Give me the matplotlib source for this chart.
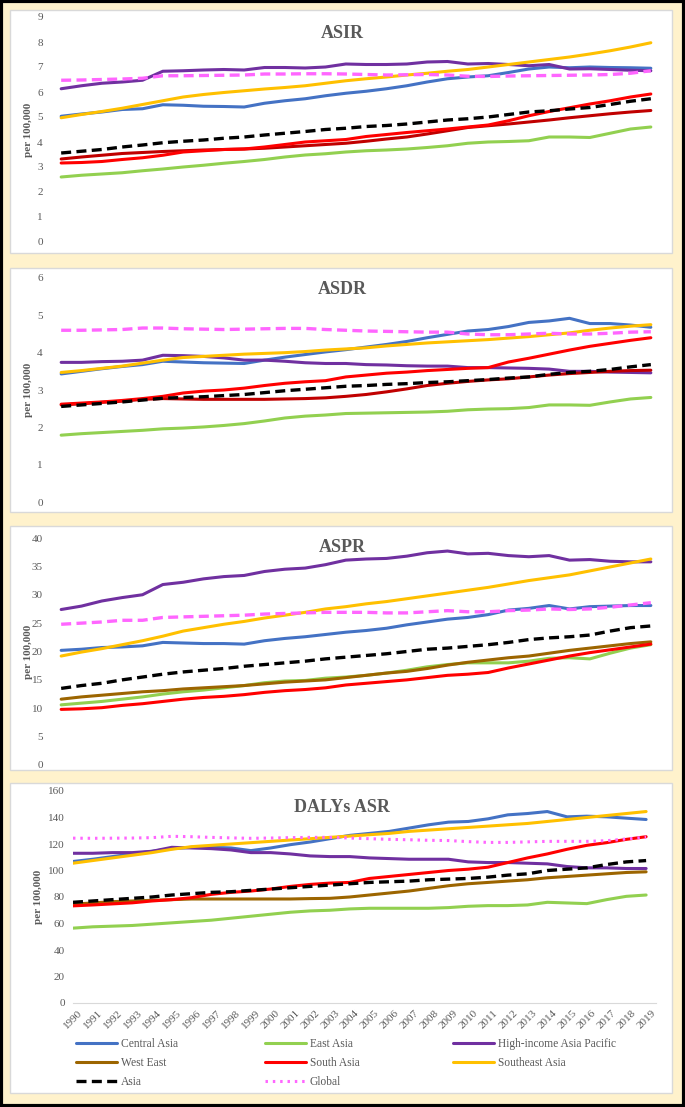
import matplotlib
matplotlib.use("Agg")
import matplotlib.pyplot as plt
from matplotlib.patches import Rectangle
from matplotlib.transforms import ScaledTranslation

plt.rcParams['font.family'] = 'serif'
plt.rcParams['font.serif'] = ['Liberation Serif', 'DejaVu Serif']

# data
years = list(range(1990, 2020))
regions = ['Central Asia', 'East Asia', 'High-income Asia Pacific', 'West East',
           'South Asia', 'Southeast Asia', 'Asia', 'Global']

asir = {
    'Central Asia': [5.03, 5.12, 5.2, 5.3, 5.33, 5.49, 5.47, 5.43, 5.42, 5.4, 5.55, 5.65, 5.73, 5.85, 5.95,
                     6.03, 6.13, 6.25, 6.4, 6.53, 6.6, 6.65, 6.78, 6.92, 7.0, 6.97, 7.0, 6.98, 6.97, 6.95],
    'East Asia': [2.6, 2.67, 2.72, 2.77, 2.85, 2.92, 3.0, 3.07, 3.15, 3.22, 3.3, 3.4, 3.48, 3.53, 3.6,
                  3.65, 3.68, 3.72, 3.78, 3.85, 3.95, 4.0, 4.02, 4.05, 4.2, 4.2, 4.18, 4.35, 4.52, 4.6],
    'High-income Asia Pacific': [6.13, 6.25, 6.35, 6.4, 6.47, 6.83, 6.85, 6.88, 6.9, 6.88, 6.98, 6.98, 6.96, 7.0, 7.12,
                                 7.1, 7.1, 7.12, 7.2, 7.22, 7.12, 7.14, 7.1, 7.05, 7.1, 6.92, 6.93, 6.9, 6.87, 6.85],
    'West East': [3.32, 3.4, 3.47, 3.54, 3.58, 3.62, 3.65, 3.68, 3.7, 3.72, 3.75, 3.8, 3.85, 3.9, 3.95,
                  4.03, 4.12, 4.2, 4.32, 4.45, 4.58, 4.65, 4.72, 4.8, 4.88, 4.97, 5.05, 5.13, 5.2, 5.26],
    'South Asia': [3.16, 3.18, 3.22, 3.3, 3.37, 3.47, 3.6, 3.65, 3.7, 3.72, 3.8, 3.9, 4.0, 4.05, 4.1,
                   4.22, 4.3, 4.38, 4.45, 4.52, 4.6, 4.68, 4.85, 5.05, 5.22, 5.37, 5.52, 5.65, 5.8, 5.92],
    'Southeast Asia': [4.97, 5.1, 5.22, 5.35, 5.5, 5.65, 5.8, 5.9, 5.98, 6.05, 6.12, 6.18, 6.25, 6.35, 6.45,
                       6.53, 6.6, 6.68, 6.75, 6.83, 6.9, 7.0, 7.1, 7.2, 7.3, 7.4, 7.52, 7.65, 7.8, 7.97],
    'Asia': [3.56, 3.63, 3.7, 3.8, 3.88, 3.97, 4.03, 4.08, 4.15, 4.2, 4.28, 4.35, 4.42, 4.5, 4.55,
             4.62, 4.66, 4.72, 4.8, 4.88, 4.93, 5.0, 5.1, 5.2, 5.25, 5.32, 5.38, 5.5, 5.63, 5.73],
    'Global': [6.47, 6.48, 6.5, 6.52, 6.55, 6.65, 6.65, 6.66, 6.67, 6.68, 6.72, 6.72, 6.73, 6.73, 6.72,
               6.7, 6.68, 6.69, 6.7, 6.68, 6.63, 6.62, 6.64, 6.65, 6.66, 6.67, 6.68, 6.7, 6.75, 6.85],
}

asdr = {
    'Central Asia': [3.43, 3.5, 3.57, 3.63, 3.68, 3.77, 3.75, 3.73, 3.72, 3.71, 3.8, 3.88, 3.95, 4.02, 4.08,
                     4.15, 4.22, 4.3, 4.4, 4.49, 4.58, 4.62, 4.7, 4.81, 4.85, 4.92, 4.78, 4.78, 4.74, 4.68],
    'East Asia': [1.79, 1.83, 1.86, 1.89, 1.92, 1.96, 1.98, 2.01, 2.05, 2.1, 2.17, 2.25, 2.3, 2.33, 2.37,
                  2.38, 2.39, 2.4, 2.41, 2.43, 2.47, 2.49, 2.5, 2.53, 2.6, 2.6, 2.59, 2.68, 2.76, 2.8],
    'High-income Asia Pacific': [3.74, 3.74, 3.76, 3.77, 3.8, 3.93, 3.92, 3.9, 3.86, 3.8, 3.8, 3.77, 3.73, 3.71, 3.71,
                                 3.68, 3.67, 3.65, 3.64, 3.64, 3.6, 3.6, 3.59, 3.58, 3.56, 3.5, 3.5, 3.48, 3.47, 3.46],
    'West East': [2.6, 2.63, 2.67, 2.7, 2.75, 2.77, 2.76, 2.75, 2.75, 2.75, 2.75, 2.76, 2.77, 2.79, 2.83,
                  2.88, 2.95, 3.03, 3.12, 3.18, 3.23, 3.27, 3.3, 3.35, 3.4, 3.44, 3.47, 3.5, 3.52, 3.53],
    'South Asia': [2.62, 2.65, 2.68, 2.72, 2.77, 2.83, 2.92, 2.97, 3.0, 3.05, 3.12, 3.18, 3.22, 3.25, 3.35,
                   3.4, 3.45, 3.48, 3.52, 3.55, 3.58, 3.6, 3.75, 3.85, 3.96, 4.07, 4.17, 4.25, 4.33, 4.4],
    'Southeast Asia': [3.47, 3.52, 3.58, 3.64, 3.72, 3.8, 3.87, 3.9, 3.93, 3.96, 3.98, 4.0, 4.03, 4.07, 4.1,
                       4.13, 4.18, 4.22, 4.26, 4.29, 4.32, 4.35, 4.39, 4.43, 4.48, 4.53, 4.6, 4.66, 4.71, 4.75],
    'Asia': [2.56, 2.6, 2.64, 2.68, 2.73, 2.78, 2.8, 2.82, 2.85, 2.88, 2.93, 2.98, 3.02, 3.06, 3.1,
             3.12, 3.15, 3.17, 3.2, 3.22, 3.25, 3.28, 3.32, 3.35, 3.42, 3.47, 3.5, 3.55, 3.62, 3.68],
    'Global': [4.6, 4.6, 4.61, 4.62, 4.66, 4.66, 4.64, 4.63, 4.62, 4.63, 4.64, 4.65, 4.65, 4.62, 4.6,
               4.58, 4.57, 4.56, 4.55, 4.55, 4.5, 4.48, 4.48, 4.5, 4.52, 4.5, 4.5, 4.52, 4.55, 4.56],
}

aspr = {
    'Central Asia': [20.2, 20.4, 20.7, 20.8, 21.0, 21.6, 21.5, 21.4, 21.4, 21.3, 21.9, 22.3, 22.6, 23.0, 23.4,
                     23.7, 24.1, 24.7, 25.2, 25.7, 26.0, 26.5, 27.3, 27.6, 28.1, 27.5, 27.9, 28.0, 28.1, 28.1],
    'East Asia': [10.6, 10.9, 11.2, 11.6, 12.0, 12.5, 12.9, 13.2, 13.6, 14.0, 14.5, 14.8, 14.9, 15.3, 15.5,
                  15.8, 16.2, 16.7, 17.3, 17.7, 18.0, 18.0, 18.0, 18.3, 18.8, 18.9, 18.7, 19.7, 20.6, 21.2],
    'High-income Asia Pacific': [27.4, 28.0, 28.9, 29.5, 30.0, 31.8, 32.2, 32.8, 33.2, 33.4, 34.1, 34.5, 34.7, 35.3, 36.1,
                                 36.3, 36.4, 36.8, 37.4, 37.7, 37.2, 37.3, 36.9, 36.7, 36.9, 36.1, 36.2, 35.9, 35.8, 35.8],
    'West East': [11.6, 12.0, 12.3, 12.6, 12.9, 13.1, 13.4, 13.6, 13.8, 14.0, 14.3, 14.6, 14.8, 15.0, 15.4,
                  15.8, 16.2, 16.5, 17.0, 17.6, 18.1, 18.5, 18.9, 19.2, 19.7, 20.2, 20.6, 21.0, 21.4, 21.7],
    'South Asia': [9.8, 9.9, 10.1, 10.5, 10.8, 11.2, 11.6, 11.9, 12.1, 12.4, 12.8, 13.1, 13.3, 13.6, 14.1,
                   14.4, 14.7, 15.0, 15.4, 15.8, 16.0, 16.3, 17.1, 17.8, 18.5, 19.2, 19.8, 20.3, 20.8, 21.3],
    'Southeast Asia': [19.2, 19.9, 20.5, 21.2, 21.9, 22.7, 23.6, 24.2, 24.8, 25.3, 25.9, 26.4, 26.9, 27.5, 27.9,
                       28.4, 28.8, 29.3, 29.8, 30.3, 30.8, 31.3, 31.9, 32.5, 33.0, 33.5, 34.2, 34.9, 35.6, 36.3],
    'Asia': [13.5, 14.0, 14.4, 15.0, 15.5, 16.0, 16.4, 16.7, 17.0, 17.4, 17.7, 18.0, 18.3, 18.7, 19.0,
             19.3, 19.6, 20.0, 20.4, 20.6, 20.9, 21.2, 21.6, 22.1, 22.4, 22.6, 22.9, 23.6, 24.2, 24.5],
    'Global': [24.8, 25.0, 25.2, 25.5, 25.5, 26.0, 26.1, 26.2, 26.3, 26.4, 26.6, 26.7, 26.8, 26.9, 26.9,
               26.9, 26.8, 26.8, 27.0, 27.2, 27.0, 27.0, 27.2, 27.3, 27.5, 27.4, 27.5, 27.8, 28.2, 28.6],
}

dalys = {
    'Central Asia': [106.8, 108.5, 110.5, 112.5, 114.5, 116.5, 117.5, 117.5, 117.0, 115.0, 117.0, 119.5, 121.5, 124.0, 126.5,
                     128.0, 129.5, 132.0, 134.5, 136.5, 137.0, 139.0, 142.0, 143.0, 144.5, 140.5, 141.0, 140.5, 139.5, 138.5],
    'East Asia': [56.5, 57.5, 58.0, 58.5, 59.5, 60.5, 61.5, 62.5, 64.0, 65.5, 67.0, 68.5, 69.5, 70.0, 71.0,
                  71.5, 71.5, 71.5, 71.5, 72.0, 73.0, 73.5, 73.5, 74.0, 76.0, 75.5, 75.0, 78.0, 80.5, 81.5],
    'High-income Asia Pacific': [113.0, 113.0, 113.5, 113.5, 114.5, 117.5, 117.0, 116.5, 115.5, 113.5, 113.5, 112.5, 111.0, 110.5, 110.5,
                                 109.5, 109.0, 108.5, 108.5, 108.5, 106.5, 106.0, 106.0, 105.5, 105.0, 103.0, 102.0, 102.0, 101.5, 101.5],
    'West East': [74.6, 75.5, 76.5, 77.0, 77.5, 78.0, 78.5, 78.5, 78.5, 78.5, 78.5, 78.5, 78.8, 79.0, 80.0,
                  81.5, 83.0, 84.5, 86.5, 88.5, 90.0, 91.0, 92.0, 93.0, 94.5, 95.5, 96.5, 97.5, 98.5, 99.0],
    'South Asia': [73.3, 74.0, 74.8, 75.6, 77.0, 78.0, 79.5, 82.0, 83.5, 84.5, 86.0, 88.0, 89.5, 90.5, 91.0,
                   94.0, 95.5, 97.0, 98.5, 100.0, 101.0, 102.5, 106.0, 109.5, 112.5, 116.0, 119.0, 121.0, 123.5, 125.5],
    'Southeast Asia': [105.5, 107.5, 109.5, 111.5, 113.5, 116.0, 118.0, 119.0, 120.0, 121.0, 122.0, 123.0, 124.0, 125.0, 126.0,
                       127.0, 128.0, 129.5, 130.5, 131.5, 132.5, 133.5, 134.5, 135.5, 137.0, 138.5, 140.0, 141.5, 143.0, 144.5],
    'Asia': [76.0, 77.0, 78.0, 79.0, 80.0, 81.5, 82.5, 83.5, 84.0, 85.0, 86.0, 87.0, 88.0, 89.0, 90.0,
             91.0, 91.5, 92.0, 93.0, 93.5, 94.0, 95.0, 96.5, 97.5, 100.0, 101.0, 102.0, 104.5, 106.5, 107.5],
    'Global': [124.4, 124.3, 124.4, 124.5, 124.8, 125.8, 125.5, 125.0, 124.6, 124.3, 124.5, 124.8, 125.0, 125.0, 124.5,
               124.0, 123.5, 123.2, 122.8, 122.6, 121.8, 121.2, 121.2, 121.6, 122.0, 122.0, 122.0, 122.5, 123.8, 125.2],
}

colors = {
    'Central Asia': '#4472C4', 'East Asia': '#92D050', 'High-income Asia Pacific': '#7030A0',
    'West East': '#9C6500', 'South Asia': '#FF0000', 'Southeast Asia': '#FFC000',
    'Asia': '#000000', 'Global': '#FF66FF',
}

W, H = 685, 1107
fig = plt.figure(figsize=(W / 100, H / 100), dpi=100, facecolor='#FFF2CC')


def px_rect(left, right, top, bottom):
    return [left / W, 1 - bottom / H, (right - left) / W, (bottom - top) / H]


# white panel boxes, behind the axes
for top, bottom in [(10, 253), (268, 512), (526, 770), (783, 1093)]:
    fig.patches.append(Rectangle((10 / W, 1 - bottom / H), 662 / W, (bottom - top) / H,
                                 transform=fig.transFigure, facecolor='white',
                                 edgecolor='#D9D9D9', lw=1, zorder=-2))
# outer black frame
fig.patches.append(Rectangle((0.002, 0.001), 0.996, 0.998, transform=fig.transFigure,
                             facecolor='none', edgecolor='black', lw=3, zorder=5))

# title, data, y max, y step, axes box in px (left, right, top, bottom), title y px, y-label x px
panels = [
    ('ASIR', asir, 9, 1, (51, 661, 17, 242), 33, 27),
    ('ASDR', asdr, 6, 1, (51, 661, 278, 502), 290, 27),
    ('ASPR', aspr, 40, 5, (51, 661, 538, 765), 548, 27),
    ('DALYs ASR', dalys, 160, 20, (73, 656, 791, 1003), 807, 37),
]

x = list(range(len(years)))
grey = '#595959'
for i, (title, data, ymax, step, box, title_y, lab_x) in enumerate(panels):
    ax = fig.add_axes(px_rect(*box))
    ax.set_facecolor('none')
    last = i == 3
    for name in regions:
        c = colors[name]
        if name == 'West East' and i < 2:
            c = '#C00000'
        if name == 'Asia':
            ax.plot(x, data[name], color=c, lw=2.4, dashes=(3, 1.6), label=name)
        elif name == 'Global':
            if last:
                ax.plot(x, data[name], color=c, lw=2.2, linestyle=(0, (0.8, 1.6)), label=name)
            else:
                ax.plot(x, data[name], color=c, lw=2.4, dashes=(3, 1.6), label=name)
        else:
            ax.plot(x, data[name], color=c, lw=2.2, label=name, solid_capstyle='round')
    if last:
        ax.set_xlim(0, len(years) - 0.5)
    else:
        ax.set_xlim(-0.5, len(years) - 0.5)
    ax.set_ylim(0, ymax)
    ax.set_yticks(range(0, ymax + 1, step))
    ax.tick_params(axis='y', length=0, labelsize=8, labelcolor=grey, pad=6)
    for s in ['top', 'right', 'left', 'bottom']:
        ax.spines[s].set_visible(False)
    if last:
        ax.spines['bottom'].set_visible(True)
        ax.spines['bottom'].set_color('#D9D9D9')
        ax.set_xticks(x)
        ax.set_xticklabels([str(y) for y in years], rotation=45, ha='right',
                           rotation_mode='anchor', fontsize=8, color=grey)
        ax.tick_params(axis='x', length=0, pad=4)
        shift = ScaledTranslation(0.05, 0, fig.dpi_scale_trans)
        for t in ax.get_xticklabels():
            t.set_transform(t.get_transform() + shift)
    else:
        ax.set_xticks([])
    ax.set_ylabel('per 100,000', fontsize=8, fontweight='bold', color=grey)
    ax.yaxis.set_label_coords((lab_x + 6 - box[0]) / (box[1] - box[0]), 0.5)
    fig.text(342 / W, 1 - title_y / H, title, ha='center', va='center',
             fontsize=13, fontweight='bold', color=grey)
    if last:
        handles, labels = ax.get_legend_handles_labels()

# legend, three columns filled row by row as in the original
cols = [[0, 3, 6], [1, 4, 7], [2, 5]]
for cx, idx in zip([76, 265, 453], cols):
    leg = fig.legend([handles[k] for k in idx], [labels[k] for k in idx],
                     loc='upper left', bbox_to_anchor=(cx / W, 1 - 1038 / H),
                     frameon=False, fontsize=8.3, handlelength=3.55, handletextpad=0.35,
                     labelspacing=0.6, borderaxespad=0, borderpad=0)
    for t in leg.get_texts():
        t.set_color(grey)

fig.savefig('out.png', dpi=100, facecolor=fig.get_facecolor())
